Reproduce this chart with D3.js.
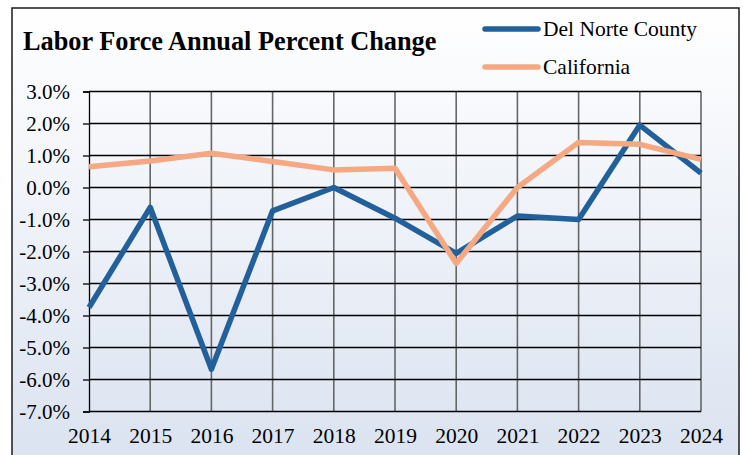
<!DOCTYPE html>
<html>
<head>
<meta charset="utf-8">
<script src="https://cdn.jsdelivr.net/npm/d3@7"></script>
<style>
  body { margin: 0; background: #fff; }
  text { font-family: "Liberation Serif", "Times New Roman", serif; fill: #000; }
</style>
</head>
<body>
<div id="chart"></div>
<script>
// data
var years = [2014, 2015, 2016, 2017, 2018, 2019, 2020, 2021, 2022, 2023, 2024];
var delNorte = [-3.75, -0.62, -5.68, -0.73, 0.0, -0.96, -2.06, -0.89, -1.0, 1.95, 0.45];
var california = [0.65, 0.83, 1.07, 0.81, 0.55, 0.6, -2.37, 0.0, 1.41, 1.35, 0.88];
var yTicks = [3, 2, 1, 0, -1, -2, -3, -4, -5, -6, -7];
var seriesNames = ["Del Norte County", "California"];

var W = 743, H = 455;
var margin = {top: 91.5, right: 42, bottom: 43.5, left: 89};

var svg = d3.select("#chart")
  .append("svg")
  .attr("width", W)
  .attr("height", H);

// background gradient
var grad = svg.append("defs").append("linearGradient")
  .attr("id", "bg")
  .attr("x1", 0).attr("y1", 0).attr("x2", 0).attr("y2", 1);
grad.append("stop").attr("offset", "0%").attr("stop-color", "#ffffff");
grad.append("stop").attr("offset", "100%").attr("stop-color", "#dae2f0");

svg.append("rect")
  .attr("x", 12).attr("y", 8)
  .attr("width", 727).attr("height", 465)
  .attr("fill", "url(#bg)")
  .attr("stroke", "#1a1a1a")
  .attr("stroke-width", 1.5);

// scales
var x = d3.scalePoint()
  .domain(years)
  .range([margin.left, W - margin.right]);

var y = d3.scaleLinear()
  .domain([-7, 3])
  .range([H - margin.bottom, margin.top]);

// vertical grid lines
svg.append("g")
  .selectAll("line")
  .data(years.slice(1))
  .join("line")
  .attr("x1", function(d) { return x(d); })
  .attr("x2", function(d) { return x(d); })
  .attr("y1", y(3))
  .attr("y2", y(-7))
  .attr("stroke", "#666")
  .attr("stroke-width", 1.6);

// horizontal grid lines
svg.append("g")
  .selectAll("line")
  .data(yTicks)
  .join("line")
  .attr("x1", margin.left)
  .attr("x2", x(2024))
  .attr("y1", function(d) { return y(d); })
  .attr("y2", function(d) { return y(d); })
  .attr("stroke", "#000")
  .attr("stroke-width", 1.3);

// y axis (plain hyphen for negatives, like the original)
var yAxis = svg.append("g")
  .attr("transform", "translate(" + margin.left + ",0)")
  .call(d3.axisLeft(y)
    .tickValues(yTicks)
    .tickSize(6)
    .tickPadding(13)
    .tickFormat(function(d) { return d.toFixed(1) + "%"; }));
yAxis.select(".domain").attr("stroke", "#000").attr("stroke-width", 1.3);
yAxis.selectAll(".tick line").attr("stroke", "#000").attr("stroke-width", 1.3);
yAxis.selectAll("text")
  .attr("font-size", 21)
  .attr("dy", "0.33em");

// x axis labels
var xAxis = svg.append("g")
  .attr("transform", "translate(0," + y(-7) + ")")
  .call(d3.axisBottom(x).tickSize(0).tickPadding(16));
xAxis.select(".domain").remove();
xAxis.selectAll("text")
  .attr("font-size", 21.5);

// lines
var line = d3.line()
  .x(function(d, i) { return x(years[i]); })
  .y(function(d) { return y(d); });

var colors = ["#22609c", "#f5a882"];

svg.append("path")
  .datum(delNorte)
  .attr("fill", "none")
  .attr("stroke", colors[0])
  .attr("stroke-width", 5.5)
  .attr("stroke-linejoin", "round")
  .attr("d", line);

svg.append("path")
  .datum(california)
  .attr("fill", "none")
  .attr("stroke", colors[1])
  .attr("stroke-width", 5.5)
  .attr("stroke-linejoin", "round")
  .attr("d", line);

// title
svg.append("text")
  .attr("x", 23)
  .attr("y", 50)
  .attr("font-size", 26.3)
  .attr("font-weight", "bold")
  .text("Labor Force Annual Percent Change");

// legend
var legend = svg.append("g")
  .selectAll("g")
  .data(seriesNames)
  .join("g")
  .attr("transform", function(d, i) { return "translate(0," + (29 + i * 38) + ")"; });

legend.append("line")
  .attr("x1", 485).attr("x2", 538)
  .attr("y1", 0).attr("y2", 0)
  .attr("stroke", function(d, i) { return colors[i]; })
  .attr("stroke-width", 5.5)
  .attr("stroke-linecap", "round");

legend.append("text")
  .attr("x", 543)
  .attr("y", 7)
  .attr("font-size", 21.5)
  .text(function(d) { return d; });
</script>
</body>
</html>
